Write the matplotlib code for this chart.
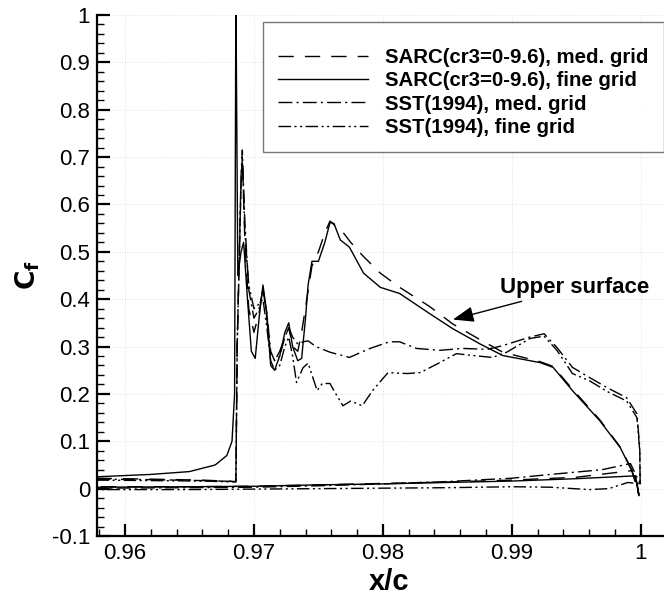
import matplotlib
matplotlib.use("Agg")
import matplotlib.pyplot as plt
from matplotlib.ticker import MultipleLocator

plt.rcParams['font.family'] = ['Liberation Sans', 'DejaVu Sans']

# ---- data ----
sarc_fine_x = [0.9578, 0.962, 0.965, 0.967, 0.9679, 0.9683, 0.9685, 0.96860, 0.96875, 0.9690, 0.9692,
               0.9695, 0.9698, 0.9701, 0.9704, 0.9707, 0.9710, 0.9713, 0.9716, 0.9720, 0.9724, 0.9727,
               0.9730, 0.9734, 0.9737, 0.9740, 0.9742, 0.9745, 0.9750, 0.9755, 0.9759, 0.9762, 0.9767,
               0.9774, 0.9785, 0.9798, 0.9813, 0.9836, 0.9854, 0.9875, 0.9893, 0.9922, 0.9932, 0.9947,
               0.9968, 0.9984, 0.9993, 0.9997, 0.99985,
               0.9996, 0.995, 0.990, 0.985, 0.980, 0.975, 0.970, 0.965, 0.9578]
sarc_fine_y = [0.025, 0.030, 0.036, 0.050, 0.070, 0.100, 0.200, 1.050, 0.450, 0.500, 0.520,
               0.400, 0.290, 0.275, 0.360, 0.430, 0.370, 0.260, 0.250, 0.280, 0.330, 0.350,
               0.300, 0.270, 0.275, 0.360, 0.430, 0.480, 0.480, 0.520, 0.562, 0.560, 0.525,
               0.510, 0.455, 0.425, 0.412, 0.370, 0.338, 0.306, 0.281, 0.266, 0.256, 0.207,
               0.144, 0.087, 0.038, 0.010, -0.015,
               0.027, 0.021, 0.016, 0.013, 0.010, 0.008, 0.005, 0.004, 0.003]

sarc_med_x = [0.9578, 0.962, 0.966, 0.9686, 0.96870, 0.9690, 0.9691, 0.9693, 0.9696, 0.9700, 0.9704,
              0.9707, 0.9710, 0.9713, 0.9716, 0.9720, 0.9724, 0.9727, 0.9730, 0.9734, 0.9737, 0.9741,
              0.9745, 0.9750, 0.9755, 0.9759, 0.9763, 0.9768, 0.9775, 0.9785, 0.9798, 0.9813, 0.9836,
              0.9854, 0.9875, 0.9893, 0.9922, 0.9932, 0.9947, 0.9968, 0.9984, 0.9993, 0.9997, 0.99985,
              0.9993, 0.995, 0.990, 0.985, 0.980, 0.975, 0.970, 0.965, 0.9578]
sarc_med_y = [0.022, 0.020, 0.018, 0.015, 0.300, 0.650, 0.700, 0.520, 0.380, 0.330, 0.370,
              0.425, 0.360, 0.280, 0.270, 0.290, 0.320, 0.340, 0.300, 0.290, 0.330, 0.400,
              0.470, 0.500, 0.540, 0.565, 0.555, 0.545, 0.520, 0.490, 0.455, 0.425, 0.385,
              0.348, 0.315, 0.288, 0.268, 0.258, 0.210, 0.146, 0.088, 0.040, 0.012, -0.012,
              0.038, 0.024, 0.018, 0.014, 0.011, 0.008, 0.005, 0.004, 0.004]

sst_med_x = [0.9578, 0.962, 0.966, 0.9686, 0.96870, 0.9690, 0.9691, 0.9693, 0.9696, 0.9700, 0.9704,
             0.9707, 0.9710, 0.9713, 0.9716, 0.9720, 0.9724, 0.9727, 0.9730, 0.9734, 0.9738, 0.9742,
             0.9748, 0.9759, 0.9774, 0.9790, 0.9805, 0.9813, 0.9826, 0.9844, 0.9862, 0.9881, 0.9893,
             0.9914, 0.9925, 0.9935, 0.9947, 0.9960, 0.9974, 0.9989, 0.9997, 0.99992, 0.99995,
             0.9992, 0.997, 0.993, 0.990, 0.985, 0.980, 0.975, 0.970, 0.965, 0.9578]
sst_med_y = [0.020, 0.019, 0.017, 0.015, 0.300, 0.660, 0.715, 0.560, 0.420, 0.360, 0.380,
             0.420, 0.370, 0.290, 0.270, 0.280, 0.320, 0.340, 0.320, 0.305, 0.310, 0.312,
             0.300, 0.288, 0.277, 0.296, 0.310, 0.310, 0.296, 0.292, 0.296, 0.294, 0.302,
             0.320, 0.327, 0.298, 0.256, 0.235, 0.213, 0.192, 0.158, 0.087, 0.010,
             0.053, 0.040, 0.030, 0.022, 0.015, 0.010, 0.006, 0.003, 0.002, 0.001]

sst_fine_x = [0.9578, 0.962, 0.966, 0.9686, 0.96870, 0.9690, 0.9691, 0.9693, 0.9696, 0.9700, 0.9704,
              0.9707, 0.9710, 0.9713, 0.9716, 0.9720, 0.9724, 0.9727, 0.9730, 0.9733, 0.9738, 0.9742,
              0.9749, 0.9753, 0.9759, 0.9762, 0.9769, 0.9775, 0.9784, 0.9792, 0.9804, 0.9819, 0.9829,
              0.9844, 0.9857, 0.9870, 0.9885, 0.9896, 0.9914, 0.9925, 0.9935, 0.9947, 0.9960, 0.9974,
              0.9989, 0.9997, 0.99992, 0.99995,
              0.9990, 0.9975, 0.9960, 0.993, 0.990, 0.985, 0.980, 0.975, 0.970, 0.965, 0.9578]
sst_fine_y = [0.018, 0.017, 0.016, 0.014, 0.300, 0.640, 0.690, 0.540, 0.430, 0.380, 0.390,
              0.400, 0.340, 0.270, 0.250, 0.260, 0.300, 0.320, 0.280, 0.224, 0.255, 0.265,
              0.207, 0.222, 0.222, 0.207, 0.175, 0.185, 0.175, 0.207, 0.245, 0.243, 0.245,
              0.266, 0.285, 0.281, 0.277, 0.288, 0.317, 0.322, 0.292, 0.243, 0.228, 0.205,
              0.185, 0.150, 0.080, 0.010,
              0.013, 0.000, -0.002, 0.003, 0.004, 0.002, 0.001, 0.000, -0.001, -0.002, -0.002]

series = [
    ("SARC(cr3=0-9.6), med. grid", sarc_med_x, sarc_med_y, (0, (11, 8))),
    ("SARC(cr3=0-9.6), fine grid", sarc_fine_x, sarc_fine_y, "-"),
    ("SST(1994), med. grid", sst_med_x, sst_med_y, (0, (10, 3, 1.5, 3))),
    ("SST(1994), fine grid", sst_fine_x, sst_fine_y, (0, (9, 2.5, 1.5, 2.5, 1.5, 2.5))),
]

fig = plt.figure(figsize=(6.64, 5.96), dpi=100)
ax = fig.add_axes([97/664, 60/596, 1 - 97/664, (536 - 15)/596])

for label, xs, ys, ls in series:
    ax.plot(xs, ys, color="black", lw=1.0, linestyle=ls, label=label)

ax.set_xlim(0.95783, 1.0018)
ax.set_ylim(-0.1, 1.0)
ax.xaxis.set_minor_locator(MultipleLocator(0.002))
ax.yaxis.set_minor_locator(MultipleLocator(0.02))
ax.set_xticks([0.96, 0.97, 0.98, 0.99, 1.0])
ax.set_xticklabels(["0.96", "0.97", "0.98", "0.99", "1"])
ax.set_yticks([-0.1 + 0.1 * i for i in range(12)])
ax.set_yticklabels(["-0.1", "0", "0.1", "0.2", "0.3", "0.4", "0.5", "0.6", "0.7", "0.8", "0.9", "1"])

for s in ("top", "right"):
    ax.spines[s].set_visible(False)
for s in ("left", "bottom"):
    ax.spines[s].set_linewidth(1.6)

ax.tick_params(which="major", direction="in", length=9, width=1.6, labelsize=16, pad=5)
ax.tick_params(which="minor", direction="in", length=5, width=1.0)
ax.grid(True, which="major", linestyle=(0, (1, 2)), color="#d8d8d8", lw=0.6)

ax.set_xlabel("x/c", fontsize=21, fontweight="bold")
ax.xaxis.set_label_coords((389 - 97) / 567, -(590 - 536) / 521, transform=ax.transAxes)
ax.xaxis.label.set_va("baseline")
ax.set_ylabel(r"$\mathbf{C_f}$", fontsize=19, labelpad=7)

leg = ax.legend(loc="upper right", bbox_to_anchor=(1.0, (1.0 - (22 - 15) / 521)),
                frameon=True, fancybox=False, handlelength=4.4, handletextpad=0.85,
                prop={"weight": "bold", "size": 14.7}, labelspacing=0.2,
                borderpad=0.75, title=" ", title_fontsize=5, borderaxespad=0)
leg.get_frame().set_edgecolor("#555555")
leg.get_frame().set_linewidth(1.0)

ax.annotate("Upper surface", xy=(0.98543, 0.357), xytext=(0.98907, 0.425),
            fontsize=16, fontweight="bold", va="center", ha="left",
            arrowprops=dict(arrowstyle="-|>,head_length=0.8,head_width=0.3", color="black", lw=1.0,
                            shrinkA=2, shrinkB=0))

fig.savefig("out.png", dpi=100)
